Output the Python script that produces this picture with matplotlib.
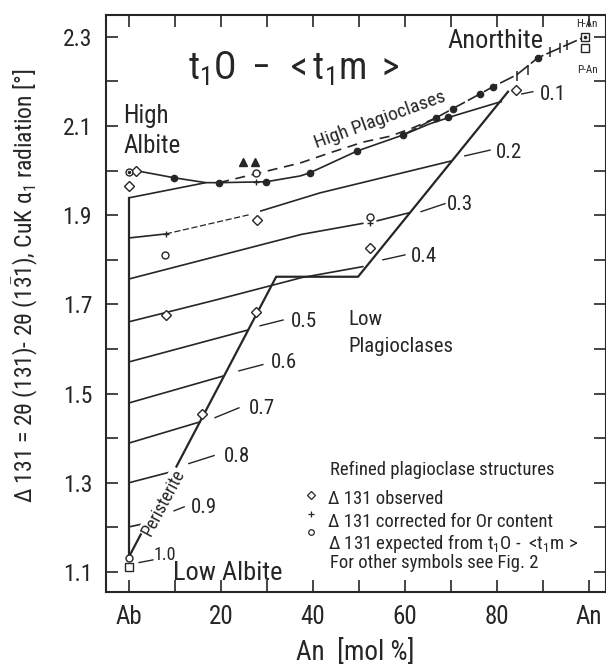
import matplotlib
matplotlib.use('Agg')
import matplotlib.pyplot as plt
from matplotlib import font_manager as fm


def pick_font():
    for name in ['Liberation Sans Narrow', 'DejaVu Sans Condensed', 'Roboto Condensed',
                 'Liberation Sans']:
        try:
            fm.findfont(fm.FontProperties(family=name), fallback_to_default=False)
            return name
        except Exception:
            pass
    return 'DejaVu Sans'


FONT = pick_font()
plt.rcParams['font.family'] = [FONT, 'DejaVu Sans']
plt.rcParams['mathtext.fontset'] = 'custom'
plt.rcParams['mathtext.rm'] = FONT
plt.rcParams['mathtext.it'] = FONT
plt.rcParams['mathtext.sf'] = FONT
plt.rcParams['mathtext.bf'] = FONT

INK = '#262626'

# ---------------- data (An mol %, Delta131 in degrees) ----------------
boundary_x = [0, 32.0, 49.8, 82.4]
boundary_y = [1.134, 1.762, 1.762, 2.177]
ab_axis_x = [0, 0]
ab_axis_y = [1.134, 1.939]

c01_x = [0, 16.7, 19.6, 29.8, 37.2, 39.3, 49.6, 59.6, 65.4, 71.3, 80.0, 81.1]
c01_y = [1.939, 1.973, 1.973, 1.975, 1.988, 1.995, 2.044, 2.080, 2.105, 2.125, 2.152, 2.155]
c02a_x = [0, 8.0]
c02a_y = [1.849, 1.858]
c02b_x = [8.0, 26.5]
c02b_y = [1.858, 1.902]
c02c_x = [28.5, 41.5, 70.2]
c02c_y = [1.909, 1.950, 2.022]
c03a_x = [0, 37.5, 51.0]
c03a_y = [1.757, 1.857, 1.882]
c03b_x = [53.8, 61.1]
c03b_y = [1.887, 1.906]
c04_x = [0, 18.9, 37.5, 51.0]
c04_y = [1.661, 1.710, 1.760, 1.785]
c05_x = [0, 26.0]
c05_y = [1.571, 1.643]
c06_x = [0, 20.7]
c06_y = [1.479, 1.540]
c07_x = [0, 15.6]
c07_y = [1.389, 1.437]
c08_x = [0, 9.7]
c08_y = [1.300, 1.326]
c09_x = [0, 3.6]
c09_y = [1.201, 1.209]

hp_low_x = [1.5, 9.8, 16.7]
hp_low_y = [2.000, 1.984, 1.973]
hp_top_x = [59.6, 66.7, 70.4, 76.3, 79.1, 84.3, 88.9, 99.1]
hp_top_y = [2.080, 2.118, 2.139, 2.172, 2.188, 2.215, 2.253, 2.300]
hp_exp_x = [19.6, 27.6, 37.2, 43.7, 50.9, 56.7, 61.5, 66.7]
hp_exp_y = [1.973, 1.993, 2.017, 2.040, 2.064, 2.077, 2.095, 2.118]

dots_x = [9.8, 19.6, 29.8, 39.3, 49.6, 59.6, 66.7, 69.3, 70.4, 76.3, 79.1, 88.9]
dots_y = [1.984, 1.973, 1.975, 1.995, 2.044, 2.080, 2.118, 2.121, 2.139, 2.172, 2.188, 2.253]
bars_x = [84.3, 86.7, 91.5, 93.7, 95.2]
bars_y = [2.213, 2.226, 2.266, 2.275, 2.282]

obs_x = [0, 1.5, 27.8, 8.0, 27.6, 15.9, 52.4, 84.1]
obs_y = [1.966, 2.000, 1.890, 1.677, 1.683, 1.455, 1.827, 2.181]
corr_x = [8.0, 27.6, 52.4]
corr_y = [1.858, 1.975, 1.882]
exp_x = [0, 27.6, 52.4, 7.8, 0]
exp_y = [1.997, 1.995, 1.897, 1.811, 1.132]
tri_x = [24.8, 27.4]
tri_y = [2.020, 2.020]
sq_x = [0, 99.1, 99.1]
sq_y = [1.112, 2.300, 2.275]

contour_labels = ['0.1', '0.2', '0.3', '0.4', '0.5', '0.6', '0.7', '0.8', '0.9', '1.0']
label_x = [89.3, 79.8, 69.1, 61.3, 35.2, 30.9, 26.1, 20.7, 13.5, 5.4]
label_y = [2.170, 2.040, 1.923, 1.807, 1.661, 1.569, 1.466, 1.358, 1.244, 1.138]
leader_x0 = [85.4, 73.0, 63.5, 55.2, 28.5, 23.9, 18.7, 13.0, 9.8, 2.2]
leader_y0 = [2.172, 2.033, 1.908, 1.800, 1.652, 1.551, 1.446, 1.343, 1.237, 1.121]
leader_x1 = [87.8, 78.5, 68.7, 60.0, 33.5, 29.1, 23.9, 18.5, 12.0, 5.2]
leader_y1 = [2.177, 2.046, 1.926, 1.811, 1.665, 1.565, 1.468, 1.361, 1.246, 1.127]

x_ticks = [0, 10, 20, 30, 40, 50, 60, 70, 80, 90, 100]
x_ticklabels = ['Ab', '', '20', '', '40', '', '60', '', '80', '', 'An']
y_ticks = [1.1, 1.2, 1.3, 1.4, 1.5, 1.6, 1.7, 1.8, 1.9, 2.0, 2.1, 2.2, 2.3]
y_ticklabels = ['1.1', '', '1.3', '', '1.5', '', '1.7', '', '1.9', '', '2.1', '', '2.3']

# ---------------- figure ----------------
fig = plt.figure(figsize=(6.06, 6.64), dpi=100)
ax = fig.add_axes([106 / 606, 72 / 664, 500 / 606, 577 / 664])
ax.set_xlim(-5, 103.7)
ax.set_ylim(1.055, 2.349)

lw = 1.2
kw = dict(color=INK, lw=lw, solid_capstyle='butt')
ax.plot(boundary_x, boundary_y, color=INK, lw=1.6)
ax.plot(ab_axis_x, ab_axis_y, color=INK, lw=1.6)
for xs, ys in [(c01_x, c01_y), (c02a_x, c02a_y), (c02c_x, c02c_y), (c03a_x, c03a_y),
               (c03b_x, c03b_y), (c04_x, c04_y), (c05_x, c05_y), (c06_x, c06_y),
               (c07_x, c07_y), (c08_x, c08_y), (c09_x, c09_y)]:
    ax.plot(xs, ys, **kw)
ax.plot(c02b_x, c02b_y, color=INK, lw=0.9, ls=(0, (5, 2)))
ax.plot(hp_low_x, hp_low_y, **kw)
ax.plot(hp_top_x, hp_top_y, color=INK, lw=lw, ls=(0, (9, 2)))
ax.plot(hp_exp_x, hp_exp_y, color=INK, lw=lw, ls=(0, (6, 4)))

ax.plot(dots_x, dots_y, 'o', color=INK, ms=4.5, zorder=5)
ax.plot(bars_x, bars_y, '|', color=INK, ms=7, mew=1.1, zorder=5)
ax.plot(obs_x, obs_y, 'D', mfc='white', mec=INK, ms=5, mew=1.0, zorder=6)
ax.plot(corr_x, corr_y, '+', color=INK, ms=5, mew=1.0, zorder=6)
ax.plot(exp_x, exp_y, 'o', mfc='white', mec=INK, ms=5, mew=1.0, zorder=6)
ax.plot([0], [1.997], 'o', color=INK, ms=1.5, zorder=7)
ax.plot(tri_x, tri_y, '^', color=INK, ms=6, zorder=6)
ax.plot(sq_x, sq_y, 's', mfc='white', mec=INK, ms=6, mew=1.0, zorder=6)
ax.plot([sq_x[1]], [sq_y[1]], 'o', color=INK, ms=1.6, zorder=7)

for i, lab in enumerate(contour_labels):
    ax.plot([leader_x0[i], leader_x1[i]], [leader_y0[i], leader_y1[i]], color=INK, lw=1.0)
    ax.text(label_x[i], label_y[i], lab, fontsize=15 if i < 9 else 13,
            ha='left', va='center', color=INK)

# texts
ax.text(12.8, 2.2035, r'$\mathregular{t_1O\ -\ <t_1m\ >}$', fontsize=27,
        ha='left', va='baseline', color=INK)
ax.text(-1.3, 2.107, 'High', fontsize=18, ha='left', va='baseline', color=INK)
ax.text(-1.3, 2.040, 'Albite', fontsize=18, ha='left', va='baseline', color=INK)
ax.text(69.3, 2.275, 'Anorthite', fontsize=19, ha='left', va='baseline', color=INK)
ax.text(9.6, 1.082, 'Low Albite', fontsize=19, ha='left', va='baseline', color=INK)
ax.text(47.6, 1.654, 'Low', fontsize=15, ha='left', va='baseline', color=INK)
ax.text(47.6, 1.593, 'Plagioclases', fontsize=15, ha='left', va='baseline', color=INK)
ax.text(54.6, 2.114, 'High Plagioclases', fontsize=14, rotation=20,
        rotation_mode='anchor', ha='center', va='center', color=INK)
ax.text(7.4, 1.255, 'Peristerite', fontsize=13, rotation=62, rotation_mode='anchor',
        ha='center', va='center', color=INK,
        bbox=dict(facecolor='white', edgecolor='none', pad=0.5))
ax.text(99.6, 2.329, 'H-An', fontsize=8, ha='center', va='center', color=INK)
ax.text(99.6, 2.226, 'P-An', fontsize=8, ha='center', va='center', color=INK)

# legend block
ax.text(43.7, 1.318, 'Refined plagioclase structures', fontsize=13.5, ha='left',
        va='baseline', color=INK)
ax.plot([39.6], [1.273], 'D', mfc='white', mec=INK, ms=4, mew=0.9)
ax.plot([39.6], [1.230], '+', color=INK, ms=4, mew=0.9)
ax.plot([39.6], [1.190], 'o', mfc='white', mec=INK, ms=4, mew=0.9)
ax.text(43.3, 1.252, 'Δ 131 observed', fontsize=13.5, ha='left', va='baseline', color=INK)
ax.text(43.3, 1.201, 'Δ 131 corrected for Or content', fontsize=13.5, ha='left',
        va='baseline', color=INK)
ax.text(43.3, 1.151, r'Δ 131 expected from $\mathregular{t_1O}$ -  <$\mathregular{t_1m}$ >',
        fontsize=13.5, ha='left', va='baseline', color=INK)
ax.text(43.7, 1.109, 'For other symbols see Fig. 2', fontsize=13.5, ha='left',
        va='baseline', color=INK)

# axes styling
ax.set_xticks(x_ticks)
ax.set_xticklabels(x_ticklabels)
ax.set_yticks(y_ticks)
ax.set_yticklabels(y_ticklabels)
ax.tick_params(axis='both', direction='in', length=8.5, width=1.2, color=INK,
               top=True, right=True)
ax.tick_params(axis='x', labelsize=18, pad=9, labelcolor=INK)
ax.tick_params(axis='y', labelsize=17, pad=10, labelcolor=INK)
for s in ax.spines.values():
    s.set_color(INK)
    s.set_linewidth(1.5)

fig.text(25 / 606, (664 - 286) / 664,
         r'Δ 131 = 2θ (131)- 2θ (1$\mathregular{\bar{3}}$1), CuK α$\mathregular{_1}$ radiation [°]',
         rotation=90, ha='center', va='center', fontsize=17, color=INK)
fig.text(355 / 606, (664 - 652) / 664, 'An  [mol %]', ha='center', va='center',
         fontsize=19.5, color=INK)

fig.savefig('out.png', dpi=100)
